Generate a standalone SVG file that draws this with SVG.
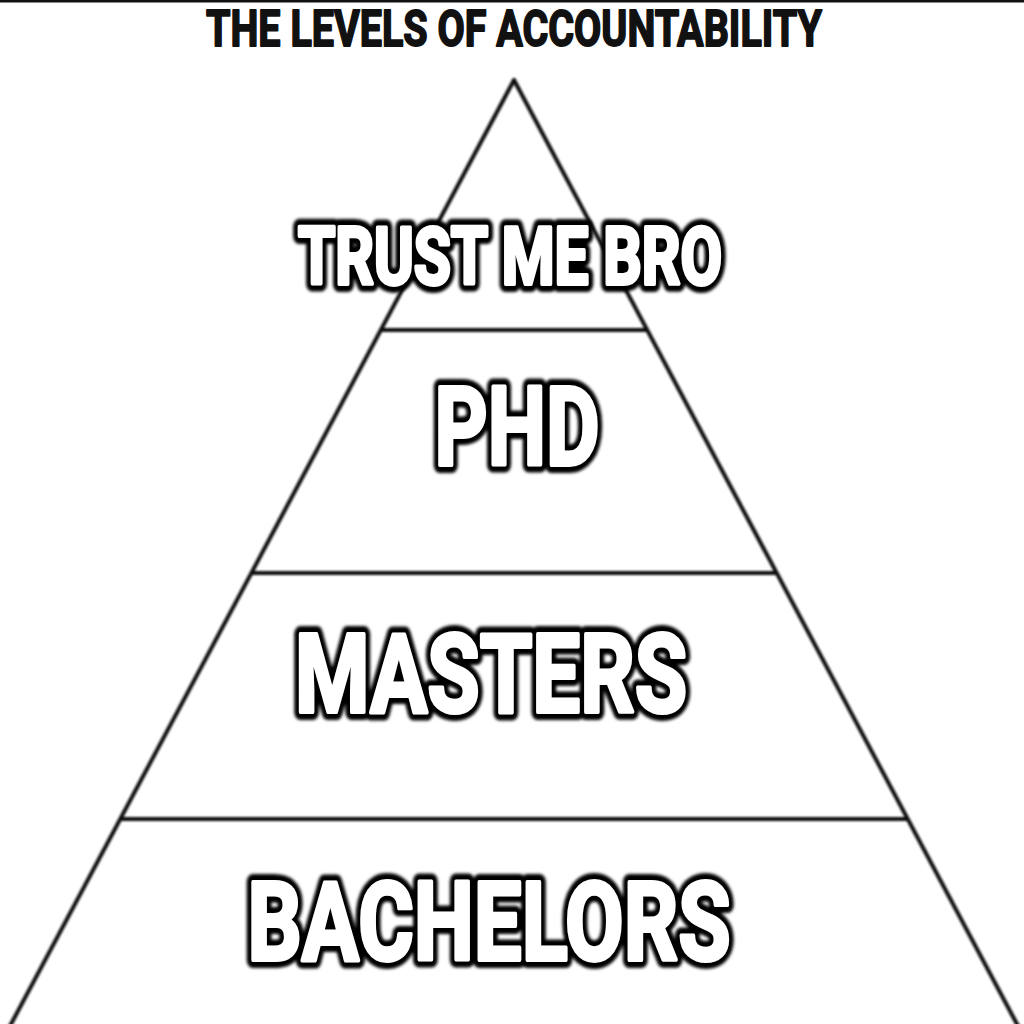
<svg xmlns="http://www.w3.org/2000/svg" width="1024" height="1024" viewBox="0 0 1024 1024">
  <defs>
    <style>
      .edge { stroke: #111; stroke-width: 4; fill: none; stroke-linecap: round; }
      .lbl { font-family: Roboto, "Liberation Sans", "DejaVu Sans", sans-serif; font-weight: 700; text-anchor: middle; stroke-linejoin: round; }
      .halo { fill: #000; stroke: #000; stroke-width: 16; }
      .face { fill: #fff; stroke: #fff; stroke-width: 4; }
      .title { font-family: Roboto, "Liberation Sans", "DejaVu Sans", sans-serif; font-weight: 700; fill: #111; stroke: #111; stroke-width: 1.8; stroke-linejoin: round; text-anchor: middle; }
    </style>
    <filter id="soft" x="-10%" y="-30%" width="120%" height="160%">
      <feGaussianBlur stdDeviation="0.8"/>
    </filter>
    <filter id="glow" x="-10%" y="-30%" width="120%" height="160%">
      <feGaussianBlur stdDeviation="1.8"/>
    </filter>
  </defs>
  <rect width="1024" height="1024" fill="#fff"/>
  <rect x="0" y="0" width="1024" height="2.5" fill="#111"/>
  <text class="title" x="514" y="46" font-size="50" textLength="616" lengthAdjust="spacingAndGlyphs">THE LEVELS OF ACCOUNTABILITY</text>
  <g id="connectors" filter="url(#soft)">
    <path class="edge" d="M514 80 L10 1026"/>
    <path class="edge" d="M514 80 L1018 1026"/>
    <path class="edge" d="M381 330 L647 330"/>
    <path class="edge" d="M252 573 L776 573"/>
    <path class="edge" d="M121 819 L907 819"/>
  </g>
  <g id="node-trust">
    <text class="lbl halo" filter="url(#glow)" x="510" y="284" font-size="79" textLength="424" lengthAdjust="spacingAndGlyphs">TRUST ME BRO</text>
    <text class="lbl face" x="510" y="284" font-size="79" textLength="424" lengthAdjust="spacingAndGlyphs">TRUST ME BRO</text>
  </g>
  <g id="node-phd">
    <text class="lbl halo" filter="url(#glow)" x="517" y="465" font-size="110" textLength="165" lengthAdjust="spacingAndGlyphs">PHD</text>
    <text class="lbl face" x="517" y="465" font-size="110" textLength="165" lengthAdjust="spacingAndGlyphs">PHD</text>
  </g>
  <g id="node-masters">
    <text class="lbl halo" filter="url(#glow)" x="491" y="712" font-size="110" textLength="392" lengthAdjust="spacingAndGlyphs">MASTERS</text>
    <text class="lbl face" x="491" y="712" font-size="110" textLength="392" lengthAdjust="spacingAndGlyphs">MASTERS</text>
  </g>
  <g id="node-bachelors">
    <text class="lbl halo" filter="url(#glow)" x="489" y="960" font-size="110" textLength="483" lengthAdjust="spacingAndGlyphs">BACHELORS</text>
    <text class="lbl face" x="489" y="960" font-size="110" textLength="483" lengthAdjust="spacingAndGlyphs">BACHELORS</text>
  </g>
</svg>
